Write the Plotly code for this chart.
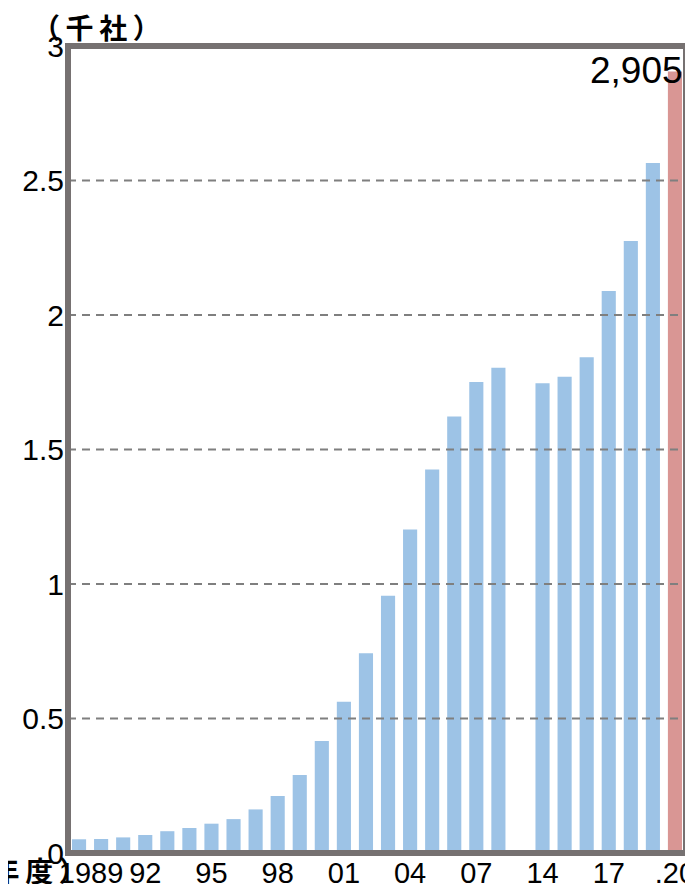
import plotly.graph_objects as go

# ---- data ----
categories = ["1989", "1990", "1991", "1992", "1993", "1994", "1995", "1996", "1997", "1998",
              "1999", "2000", "2001", "2002", "2003", "2004", "2005", "2006", "2007", "2008",
              "gap",
              "2014", "2015", "2016", "2017", "2018", "2019", "2020"]
values = [0.051, 0.052, 0.058, 0.067, 0.081, 0.093, 0.109, 0.126, 0.162, 0.212,
          0.290, 0.416, 0.562, 0.743, 0.956, 1.203, 1.426, 1.623, 1.751, 1.804,
          None,
          1.746, 1.770, 1.843, 2.089, 2.275, 2.565, 2.905]
highlight = "2020"
highlight_label = "2,905"

x_tick_cats = ["1989", "1992", "1995", "1998", "2001", "2004", "2007", "2014", "2017", "2020"]
x_tick_text = ["1989", "92", "95", "98", "01", "04", "07", "14", "17", ".20"]

y_tick_vals = [0, 0.5, 1, 1.5, 2, 2.5, 3]
y_tick_text = ["0", "0.5", "1", "1.5", "2", "2.5", "3"]

y_unit = "（千社）"
x_unit = "（年度）"

# ---- styles ----
BLUE = "#9DC3E6"
PINK = "#D99694"
FRAME = "#767171"
GRID = "#7F7F7F"
NUM_FONT = "Liberation Sans, Arial, sans-serif"
CJK_FONT = "Noto Sans CJK JP, sans-serif"
THIN = "\u2009"

colors = [PINK if c == highlight else BLUE for c in categories]

# pad the first label so it sits a bit to the right as in the original
ticktext = ["\u00a0\u00a0\u00a0" + t if i == 0 else t for i, t in enumerate(x_tick_text)]

fig = go.Figure()
fig.add_trace(go.Bar(
    x=categories, y=values,
    marker=dict(color=colors, line=dict(width=0)),
    hoverinfo="skip",
))

W, H = 693, 884
OFF = 8  # the page body offsets the figure by 8px
# target plot box on screen: x 68..686, y 46..853
L = 68 - OFF
T = 46 - OFF
R = W - (686 - OFF)
B = H - (853 - OFF)
pw = W - L - R
ph = H - T - B


def px_x(sx):
    return (sx - OFF - L) / pw


def px_y(sy):
    return (H - B - (sy - OFF)) / ph


shapes = []
for v in y_tick_vals:
    if 0 < v < 3:
        shapes.append(dict(type="line", xref="paper", yref="y", x0=0, x1=1, y0=v, y1=v,
                           line=dict(color=GRID, width=2, dash="8px,6px"), layer="above"))
shapes.append(dict(type="rect", xref="paper", yref="paper", x0=0, x1=1, y0=0, y1=1,
                   line=dict(color=FRAME, width=6), fillcolor="rgba(0,0,0,0)", layer="above"))

hi = categories.index(highlight)
annotations = [
    dict(text=THIN.join(y_unit), xref="paper", yref="paper", x=px_x(96), y=px_y(27),
         xanchor="center", yanchor="middle", showarrow=False,
         font=dict(family=CJK_FONT, size=28, color="black", weight="bold")),
    dict(text=THIN.join(x_unit), xref="paper", yref="paper", x=px_x(22), y=px_y(870),
         xanchor="center", yanchor="middle", showarrow=False,
         font=dict(family=CJK_FONT, size=28, color="black", weight="bold")),
    dict(text=highlight_label, x=hi, y=values[hi],
         xref="x", yref="y", xanchor="right", yanchor="middle", xshift=10, yshift=1,
         showarrow=False, font=dict(family=NUM_FONT, size=37, color="black")),
]

fig.update_layout(
    width=W, height=H,
    margin=dict(l=L, r=R, t=T, b=B, pad=0, autoexpand=False),
    paper_bgcolor="white", plot_bgcolor="white",
    bargap=0.36,
    showlegend=False,
    shapes=shapes,
    annotations=annotations,
    xaxis=dict(type="category", categoryorder="array", categoryarray=categories,
               range=[-0.5, len(categories) - 0.5], automargin=False,
               tickvals=x_tick_cats, ticktext=ticktext,
               tickfont=dict(family=NUM_FONT, size=29, color="black"),
               showgrid=False, zeroline=False, showline=False, ticks=""),
    yaxis=dict(range=[0, 3], tickvals=y_tick_vals, ticktext=y_tick_text, automargin=False,
               tickfont=dict(family=NUM_FONT, size=30, color="black"),
               ticklabelstandoff=3,
               showgrid=False, zeroline=False, showline=False, ticks=""),
)

fig.write_html("out.html")
